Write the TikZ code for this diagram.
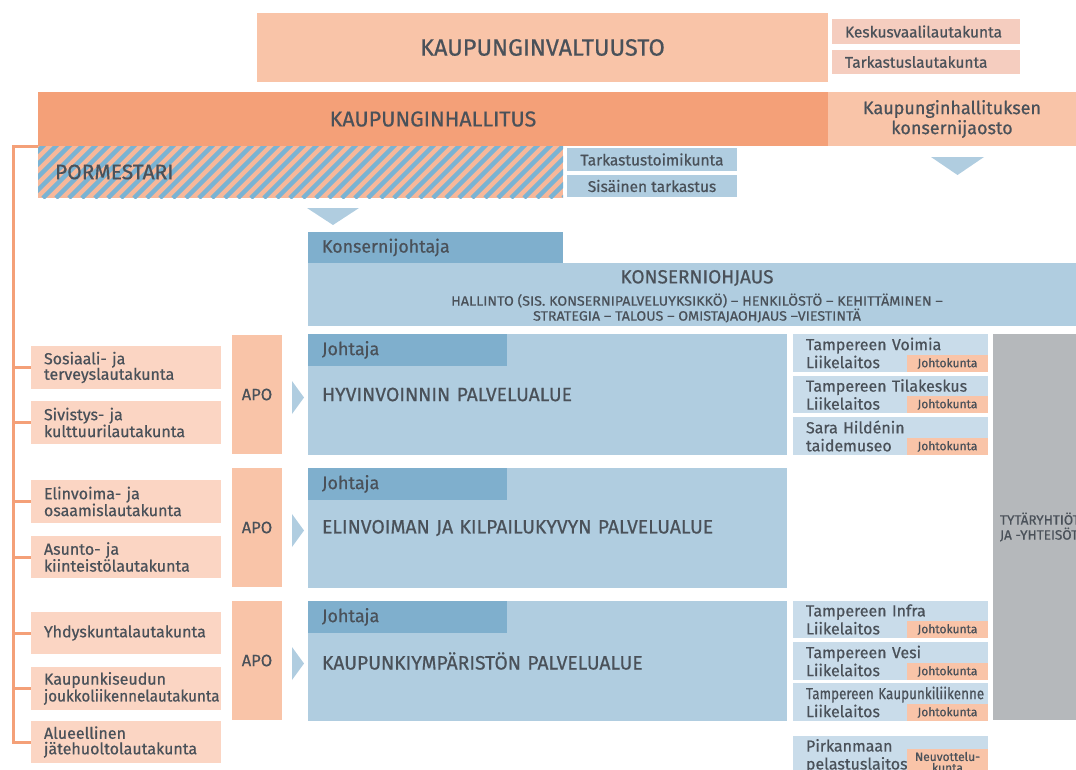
\documentclass[tikz,border=0pt]{standalone}
\usepackage{fontspec}
\setmainfont{Fira Sans}[FakeBold=0.6]
\usetikzlibrary{calc}
\definecolor{txt}{HTML}{4A5159}
\definecolor{salD}{HTML}{F4A078}
\definecolor{salL}{HTML}{F9C4A8}
\definecolor{salP}{HTML}{FBD5C3}
\definecolor{salK}{HTML}{F5CDBF}
\definecolor{bluL}{HTML}{B0CDE0}
\definecolor{bluM}{HTML}{7FAFCD}
\definecolor{bluP}{HTML}{C9DCEA}
\definecolor{stripeB}{HTML}{7AB3D3}
\definecolor{stripeS}{HTML}{F7B89A}
\definecolor{grayB}{HTML}{B5B8BB}
\newcommand\fs[2]{\fontsize{#1}{#2}\selectfont}
\begin{document}
\begin{tikzpicture}[x=1pt,y=-1pt,
  every node/.style={inner sep=0pt, outer sep=0pt, text=txt},
  bx/.style={anchor=north west, rectangle},
  laut/.style={bx, fill=salP, minimum width=190, text width=164, align=left, font=\fs{16}{15.5}},
  apo/.style={bx, fill=salL, minimum width=50, minimum height=119, font=\fs{16.5}{19}},
  palv/.style={bx, fill=bluL, minimum width=479, text width=451, align=left, font=\fs{19.3}{22}},
  joht/.style={bx, fill=bluM, minimum width=199, minimum height=32, text width=171, align=left, font=\fs{18}{20}},
  rc/.style={bx, fill=bluP, minimum width=195, text width=169, align=left, font=\fs{16}{18}},
  tag/.style={anchor=south east, fill=salL, minimum width=81, minimum height=17, font=\fs{12}{11}},
  orl/.style={draw=salD, line width=3pt},
  tri/.style={fill=bluL}
]
\useasboundingbox (0,0) rectangle (1076,769);

% top level
\node[bx, fill=salL, minimum width=571, minimum height=69, font=\fs{23.5}{25}] (valt) at (257,13) {KAUPUNGINVALTUUSTO};
\node[bx, fill=salK, minimum width=188, minimum height=25, text width=162, align=left, font=\fs{15.5}{18}] (kvl) at (832,19) {Keskusvaalilautakunta};
\node[bx, fill=salK, minimum width=188, minimum height=24, text width=162, align=left, font=\fs{15.5}{18}] (tkl) at (832,50) {Tarkastuslautakunta};
\node[bx, fill=salD, minimum width=790, minimum height=54, font=\fs{21.5}{24}] (hall) at (38,92) {KAUPUNGINHALLITUS};
\node[bx, fill=salL, minimum width=248, minimum height=54, align=center, font=\fs{18}{20}] (jaos) at (828,92) {\raisebox{-2pt}{Kaupunginhallituksen}\\\raisebox{-2pt}{konsernijaosto}};

% pormestari hatched
\node[bx, minimum width=525, minimum height=52, text width=491, align=left, font=\fs{21}{22},
  path picture={
    \fill[stripeS] (path picture bounding box.south west) rectangle (path picture bounding box.north east);
    \foreach \i in {0,...,46}
      \draw[stripeB, line width=4.5pt] ([xshift=\i*13pt-60pt]path picture bounding box.south west) -- ++(70,-70);
  }] (porm) at (38,146) {\raisebox{-1.5pt}{PORMESTARI}};
\node[bx, fill=bluL, minimum width=170, minimum height=23, font=\fs{15.5}{18}] (tkt) at (567,148) {Tarkastustoimikunta};
\node[bx, fill=bluL, minimum width=170, minimum height=22, font=\fs{15.5}{18}] (sis) at (567,175) {Sisäinen tarkastus};

% down triangles
\fill[tri] (307,208) -- (359,208) -- (333,225) -- cycle;
\fill[tri] (931,157) -- (984,157) -- (957.5,175) -- cycle;

% konserni
\node[bx, fill=bluM, minimum width=255, minimum height=31, text width=227, align=left, font=\fs{17.8}{19}] (kj) at (308,232) {Konsernijohtaja};
\node[bx, fill=bluL, minimum width=768, minimum height=63] (ko) at (308,263) {};
\node[font=\fs{19}{20}] (kot) at (697,278) {KONSERNIOHJAUS};
\node[align=center, font=\fs{13.5}{15}] (kos) at (697,308) {\scalebox{1.055}[1]{HALLINTO (SIS. KONSERNIPALVELUYKSIKKÖ) – HENKILÖSTÖ – KEHITTÄMINEN –}\\\scalebox{1.055}[1]{STRATEGIA – TALOUS – OMISTAJAOHJAUS –VIESTINTÄ}};

% lautakunnat
\node[laut, minimum height=43] (sos) at (31,346) {Sosiaali- ja\\terveyslautakunta};
\node[laut, minimum height=43] (siv) at (31,401) {Sivistys- ja\\kulttuurilautakunta};
\node[laut, minimum height=43] (eli) at (31,480) {Elinvoima- ja\\osaamislautakunta};
\node[laut, minimum height=42] (asu) at (31,536) {Asunto- ja\\kiinteistölautakunta};
\node[laut, minimum height=42] (yhd) at (31,612) {Yhdyskuntalautakunta};
\node[laut, minimum height=43] (kau) at (31,667) {Kaupunkiseudun\\\scalebox{0.95}[1]{joukkoliikennelautakunta}};
\node[laut, minimum height=42] (alu) at (31,721) {Alueellinen\\jätehuoltolautakunta};

% connectors
\coordinate (sp) at (13.5,146);
\draw[orl] (hall.south west) -- (sp) |- (alu.west);
\foreach \n in {sos,siv,eli,asu,yhd,kau}
  \draw[orl] (sp |- \n.west) -- (\n.west);

% APO
\node[apo] (apo1) at (232,335) {APO};
\node[apo] (apo2) at (232,468) {APO};
\node[apo] (apo3) at (232,601) {APO};
\foreach \a in {apo1,apo2,apo3}
  \fill[tri] ($(\a.east)+(10,-13.5)$) -- ++(12,16.5) -- ++(-12,16.5) -- cycle;

% palvelualueet
\node[palv, minimum height=121] (hyv) at (308,334) {\raisebox{-2pt}{HYVINVOINNIN PALVELUALUE}};
\node[joht] (j1) at (308,334) {Johtaja};
\node[palv, minimum height=120] (elk) at (308,468) {\raisebox{-2pt}{ELINVOIMAN JA KILPAILUKYVYN PALVELUALUE}};
\node[joht] (j2) at (308,468) {Johtaja};
\node[palv, minimum height=120] (kym) at (308,601) {\raisebox{-2pt}{KAUPUNKIYMPÄRISTÖN PALVELUALUE}};
\node[joht] (j3) at (308,601) {Johtaja};

% liikelaitokset
\node[rc, minimum height=38] (voi) at (793,334) {Tampereen Voimia\\Liikelaitos};
\node[tag] (t1) at (voi.south east) {Johtokunta};
\node[rc, minimum height=37] (til) at (793,376) {Tampereen Tilakeskus\\Liikelaitos};
\node[tag] (t2) at (til.south east) {Johtokunta};
\node[rc, minimum height=38] (sar) at (793,417) {Sara Hildénin\\taidemuseo};
\node[tag] (t3) at (sar.south east) {Johtokunta};
\node[rc, minimum height=37] (inf) at (793,601) {Tampereen Infra\\Liikelaitos};
\node[tag] (t4) at (inf.south east) {Johtokunta};
\node[rc, minimum height=38] (ves) at (793,642) {Tampereen Vesi\\Liikelaitos};
\node[tag] (t5) at (ves.south east) {Johtokunta};
\node[rc, minimum height=38] (kli) at (793,683) {\scalebox{0.84}[1]{Tampereen Kaupunkiliikenne}\\Liikelaitos};
\node[tag] (t6) at (kli.south east) {Johtokunta};
\node[rc, minimum height=40] (pir) at (793,736) {Pirkanmaan\\pelastuslaitos};
\node[tag, anchor=north east, minimum height=26, align=center] (t7) at ($(pir.north east)+(0,13)$) {Neuvottelu-\\kunta};

% tytaryhtiot
\node[bx, fill=grayB, minimum width=100, minimum height=386] (tyt) at (993,334) {};
\node[anchor=west, align=left, font=\fs{13.5}{15}] (tytt) at (1000,527) {TYTÄRYHTIÖT\\JA -YHTEISÖT};
\end{tikzpicture}
\end{document}
